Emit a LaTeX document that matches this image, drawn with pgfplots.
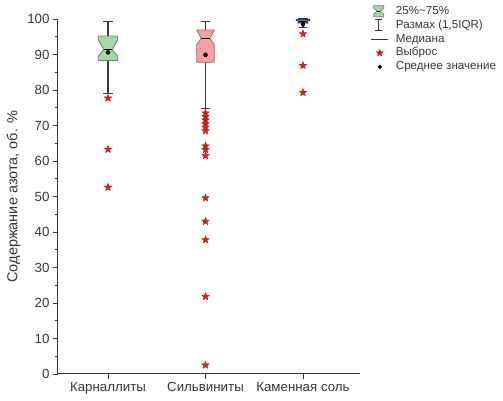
\documentclass[border=0pt]{standalone}
\usepackage{fontspec}
\setmainfont{Liberation Sans}
\usepackage{pgfplots}
\pgfplotsset{compat=1.18}

\definecolor{gfill}{RGB}{168,214,168}
\definecolor{gedge}{RGB}{95,140,95}
\definecolor{pfill}{RGB}{245,160,160}
\definecolor{pedge}{RGB}{170,100,100}
\definecolor{bfill}{RGB}{95,105,150}
\definecolor{bedge}{RGB}{40,44,80}
\definecolor{wgray}{RGB}{55,55,55}
\definecolor{sred}{RGB}{225,30,30}
\definecolor{sredd}{RGB}{170,20,20}

\pgfdeclareplotmark{fstar}{%
  \pgfpathmoveto{\pgfpointpolar{90}{\pgfplotmarksize}}%
  \pgfpathlineto{\pgfpointpolar{126}{0.42\pgfplotmarksize}}%
  \pgfpathlineto{\pgfpointpolar{162}{\pgfplotmarksize}}%
  \pgfpathlineto{\pgfpointpolar{198}{0.42\pgfplotmarksize}}%
  \pgfpathlineto{\pgfpointpolar{234}{\pgfplotmarksize}}%
  \pgfpathlineto{\pgfpointpolar{270}{0.42\pgfplotmarksize}}%
  \pgfpathlineto{\pgfpointpolar{306}{\pgfplotmarksize}}%
  \pgfpathlineto{\pgfpointpolar{342}{0.42\pgfplotmarksize}}%
  \pgfpathlineto{\pgfpointpolar{18}{\pgfplotmarksize}}%
  \pgfpathlineto{\pgfpointpolar{54}{0.42\pgfplotmarksize}}%
  \pgfpathclose
  \pgfusepathqfillstroke}

\begin{document}
\begin{tikzpicture}
\begin{axis}[
  scale only axis,
  width=302pt, height=355pt,
  xmin=0.487, xmax=3.585,
  ymin=0, ymax=100,
  axis x line*=bottom, axis y line*=left,
  axis line style={wgray, line width=1pt},
  tick style={wgray, line width=0.9pt},
  tick align=outside,
  major tick length=5pt, minor tick length=3pt,
  xtick={1,2,3},
  xticklabels={Карналлиты, Сильвиниты, Каменная соль},
  ytick={0,10,...,100},
  minor y tick num=1,
  /pgf/number format/assume math mode=true,
  tick label style={font=\fontsize{13.3}{15}\selectfont, text=wgray},
  ylabel={Содержание азота, об. \%},
  ylabel style={font=\fontsize{14.5}{16}\selectfont, text=wgray},
  clip=false,
  legend style={at={(1,1)}, anchor=north west, xshift=9pt, yshift=15pt,
    draw=none, fill=none, font=\fontsize{11.6}{13}\selectfont,
    text=wgray, row sep=1.9pt, inner sep=1pt,
    nodes={inner sep=0.6pt, text height=8.4pt, text depth=2.4pt},
    /tikz/every odd column/.append style={column sep=7pt}},
  legend cell align=left,
]
% ---------- Карналлиты ----------
\addplot[forget plot, wgray, line width=1.2pt] coordinates {(1,95.2) (1,99.2)};
\addplot[forget plot, wgray, line width=1.2pt] coordinates {(0.95,99.2) (1.05,99.2)};
\addplot[forget plot, wgray, line width=1.2pt] coordinates {(1,88.3) (1,79.0)};
\addplot[forget plot, wgray, line width=1.2pt] coordinates {(0.95,79.0) (1.05,79.0)};
\addplot[forget plot, fill=gfill, draw=gedge, line width=0.8pt] coordinates {
 (0.9,88.3) (1.1,88.3) (1.1,89.5) (1.045,91.4) (1.1,94.3) (1.1,95.2)
 (0.9,95.2) (0.9,94.3) (0.955,91.4) (0.9,89.5) (0.9,88.3)};
\addplot[forget plot, black, line width=1pt] coordinates {(0.955,91.4) (1.045,91.4)};
% ---------- Сильвиниты ----------
\addplot[forget plot, wgray, line width=1.2pt] coordinates {(2,96.9) (2,99.4)};
\addplot[forget plot, wgray, line width=1.2pt] coordinates {(1.95,99.4) (2.05,99.4)};
\addplot[forget plot, wgray, line width=1.2pt] coordinates {(2,87.8) (2,74.8)};
\addplot[forget plot, wgray, line width=1.2pt] coordinates {(1.95,74.8) (2.05,74.8)};
\addplot[forget plot, fill=pfill, draw=pedge, line width=0.8pt] coordinates {
 (1.91,87.8) (2.09,87.8) (2.09,92.8) (2.043,94.5) (2.09,96.9)
 (1.91,96.9) (1.957,94.5) (1.91,92.8) (1.91,87.8)};
\addplot[forget plot, black, line width=1pt] coordinates {(1.957,94.5) (2.043,94.5)};
% ---------- Каменная соль ----------
\addplot[forget plot, wgray, line width=1.2pt] coordinates {(3,99.9) (3,100.2)};
\addplot[forget plot, wgray, line width=1.2pt] coordinates {(2.95,100.2) (3.05,100.2)};
\addplot[forget plot, wgray, line width=1.2pt] coordinates {(3,98.9) (3,97.7)};
\addplot[forget plot, wgray, line width=1.2pt] coordinates {(2.96,97.7) (3.04,97.7)};
\addplot[forget plot, fill=bfill, draw=bedge, line width=0.8pt] coordinates {
 (2.93,99.95) (3.07,99.95) (3.07,99.6) (3.035,99.3) (3.05,98.9)
 (2.95,98.9) (2.965,99.3) (2.93,99.6) (2.93,99.95)};
\addplot[forget plot, black, line width=1pt] coordinates {(2.965,99.3) (3.035,99.3)};
% ---------- Outliers ----------
\addplot[forget plot, only marks, mark=fstar, mark size=4pt,
  mark options={fill=sred, draw=sredd, line width=0.3pt}] coordinates {
 (1,77.7) (1,63.3) (1,52.6)
 (2,73.5) (2,72.5) (2,71.5) (2,70.5) (2,69.5) (2,68.5) (2,64.2) (2,63.2)
 (2,61.5) (2,49.6) (2,43.0) (2,37.8) (2,21.8) (2,2.5)
 (3,95.8) (3,86.9) (3,79.3)};
% ---------- Means ----------
\addplot[forget plot, only marks, mark=*, mark size=2pt, black] coordinates {
 (1,90.6) (2,89.9) (3,98.5)};
% ---------- Legend ----------
\addlegendimage{legend image code/.code={
  \draw[fill=gfill, draw=gedge, line width=0.7pt]
   (3pt,-5.5pt)--(13pt,-5.5pt)--(13pt,-3pt)--(9.5pt,0pt)--(13pt,3pt)--(13pt,5.5pt)
   --(3pt,5.5pt)--(3pt,3pt)--(6.5pt,0pt)--(3pt,-3pt)--cycle;
  \draw[black, line width=0.8pt] (6.5pt,0pt)--(9.5pt,0pt);}}
\addlegendentry{25\%{\char"7E}75\%}
\addlegendimage{legend image code/.code={
  \draw[wgray, line width=1.1pt] (8pt,-5.5pt)--(8pt,5.5pt);
  \draw[wgray, line width=1.1pt] (4.5pt,5.5pt)--(11.5pt,5.5pt);
  \draw[wgray, line width=1.1pt] (4.5pt,-5.5pt)--(11.5pt,-5.5pt);}}
\addlegendentry{Размах (1,5IQR)}
\addlegendimage{legend image code/.code={
  \draw[wgray, line width=1.1pt] (0pt,0pt)--(17pt,0pt);}}
\addlegendentry{Медиана}
\addlegendimage{legend image code/.code={
  \pgfsetfillcolor{sred}\pgfsetstrokecolor{sredd}\pgfsetlinewidth{0.3pt}
  \pgfsetplotmarksize{3.8pt}
  \pgftransformshift{\pgfpoint{9pt}{0pt}}\pgfuseplotmark{fstar}}}
\addlegendentry{Выброс}
\addlegendimage{legend image code/.code={
  \fill[black] (9pt,0pt) circle (1.9pt);}}
\addlegendentry{Среднее значение}
\end{axis}
\pgfresetboundingbox
\path[use as bounding box] ([shift={(-58pt,-27pt)}]current axis.south west)
  rectangle ([shift={(143pt,19pt)}]current axis.north east);
\end{tikzpicture}
\end{document}
